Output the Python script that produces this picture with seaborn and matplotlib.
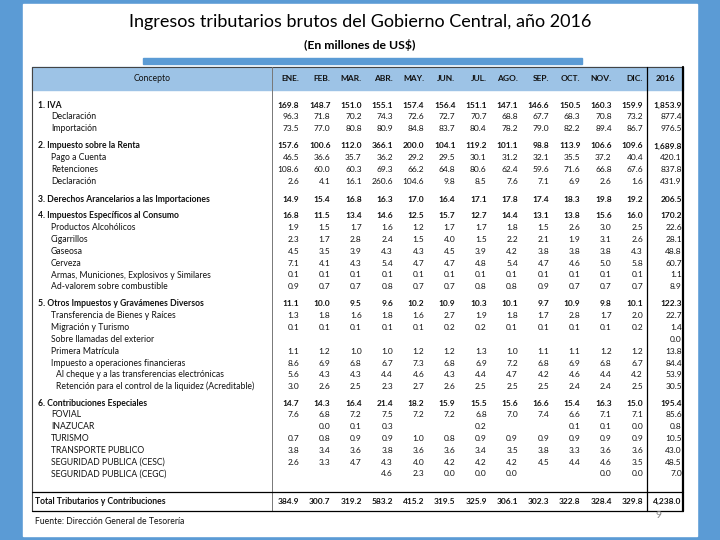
import numpy as np
import pandas as pd
import matplotlib.pyplot as plt
import seaborn as sns
from matplotlib.colors import ListedColormap
from matplotlib.patches import Rectangle

sns.set_theme(style="white")
plt.rcParams["font.family"] = ["Lato", "DejaVu Sans"]

nan = np.nan

titulo = "Ingresos tributarios brutos del Gobierno Central, año 2016"
subtitulo = "(En millones de US$)"
fuente = "Fuente: Dirección General de Tesorería"

meses = ["ENE.", "FEB.", "MAR.", "ABR.", "MAY.", "JUN.", "JUL.", "AGO.", "SEP.", "OCT.", "NOV.", "DIC."]
col_total = "2016"

# 1. IVA
iva_conceptos = ["1. IVA", "Declaración", "Importación"]
iva_nivel = [0, 1, 1]
iva = [
    [169.8, 148.7, 151.0, 155.1, 157.4, 156.4, 151.1, 147.1, 146.6, 150.5, 160.3, 159.9, 1853.9],
    [96.3, 71.8, 70.2, 74.3, 72.6, 72.7, 70.7, 68.8, 67.7, 68.3, 70.8, 73.2, 877.4],
    [73.5, 77.0, 80.8, 80.9, 84.8, 83.7, 80.4, 78.2, 79.0, 82.2, 89.4, 86.7, 976.5],
]

# 2. Renta
renta_conceptos = ["2. Impuesto sobre la Renta", "Pago a Cuenta", "Retenciones", "Declaración"]
renta_nivel = [0, 1, 1, 1]
renta = [
    [157.6, 100.6, 112.0, 366.1, 200.0, 104.1, 119.2, 101.1, 98.8, 113.9, 106.6, 109.6, 1689.8],
    [46.5, 36.6, 35.7, 36.2, 29.2, 29.5, 30.1, 31.2, 32.1, 35.5, 37.2, 40.4, 420.1],
    [108.6, 60.0, 60.3, 69.3, 66.2, 64.8, 80.6, 62.4, 59.6, 71.6, 66.8, 67.6, 837.8],
    [2.6, 4.1, 16.1, 260.6, 104.6, 9.8, 8.5, 7.6, 7.1, 6.9, 2.6, 1.6, 431.9],
]

# 3. Derechos arancelarios
dai_conceptos = ["3. Derechos Arancelarios a las Importaciones"]
dai_nivel = [0]
dai = [
    [14.9, 15.4, 16.8, 16.3, 17.0, 16.4, 17.1, 17.8, 17.4, 18.3, 19.8, 19.2, 206.5],
]

# 4. Específicos
espec_conceptos = ["4. Impuestos Específicos al Consumo", "Productos Alcohólicos", "Cigarrillos",
                   "Gaseosa", "Cerveza", "Armas, Municiones, Explosivos y Similares",
                   "Ad-valorem sobre combustible"]
espec_nivel = [0, 1, 1, 1, 1, 1, 1]
espec = [
    [16.8, 11.5, 13.4, 14.6, 12.5, 15.7, 12.7, 14.4, 13.1, 13.8, 15.6, 16.0, 170.2],
    [1.9, 1.5, 1.7, 1.6, 1.2, 1.7, 1.7, 1.8, 1.5, 2.6, 3.0, 2.5, 22.6],
    [2.3, 1.7, 2.8, 2.4, 1.5, 4.0, 1.5, 2.2, 2.1, 1.9, 3.1, 2.6, 28.1],
    [4.5, 3.5, 3.9, 4.3, 4.3, 4.5, 3.9, 4.2, 3.8, 3.8, 3.8, 4.3, 48.8],
    [7.1, 4.1, 4.3, 5.4, 4.7, 4.7, 4.8, 5.4, 4.7, 4.6, 5.0, 5.8, 60.7],
    [0.1, 0.1, 0.1, 0.1, 0.1, 0.1, 0.1, 0.1, 0.1, 0.1, 0.1, 0.1, 1.1],
    [0.9, 0.7, 0.7, 0.8, 0.7, 0.7, 0.8, 0.8, 0.9, 0.7, 0.7, 0.7, 8.9],
]

# 5. Otros
otros_conceptos = ["5. Otros Impuestos y Gravámenes Diversos", "Transferencia de Bienes y Raíces",
                   "Migración y Turismo", "Sobre llamadas del exterior", "Primera Matrícula",
                   "Impuesto a operaciones financieras",
                   "Al cheque y a las transferencias electrónicas",
                   "Retención para el control de la liquidez (Acreditable)"]
otros_nivel = [0, 1, 1, 1, 1, 1, 2, 2]
otros = [
    [11.1, 10.0, 9.5, 9.6, 10.2, 10.9, 10.3, 10.1, 9.7, 10.9, 9.8, 10.1, 122.3],
    [1.3, 1.8, 1.6, 1.8, 1.6, 2.7, 1.9, 1.8, 1.7, 2.8, 1.7, 2.0, 22.7],
    [0.1, 0.1, 0.1, 0.1, 0.1, 0.2, 0.2, 0.1, 0.1, 0.1, 0.1, 0.2, 1.4],
    [nan, nan, nan, nan, nan, nan, nan, nan, nan, nan, nan, nan, 0.0],
    [1.1, 1.2, 1.0, 1.0, 1.2, 1.2, 1.3, 1.0, 1.1, 1.1, 1.2, 1.2, 13.8],
    [8.6, 6.9, 6.8, 6.7, 7.3, 6.8, 6.9, 7.2, 6.8, 6.9, 6.8, 6.7, 84.4],
    [5.6, 4.3, 4.3, 4.4, 4.6, 4.3, 4.4, 4.7, 4.2, 4.6, 4.4, 4.2, 53.9],
    [3.0, 2.6, 2.5, 2.3, 2.7, 2.6, 2.5, 2.5, 2.5, 2.4, 2.4, 2.5, 30.5],
]

# 6. Contribuciones
contrib_conceptos = ["6. Contribuciones Especiales", "FOVIAL", "INAZUCAR", "TURISMO",
                     "TRANSPORTE PUBLICO", "SEGURIDAD PUBLICA (CESC)", "SEGURIDAD PUBLICA (CEGC)"]
contrib_nivel = [0, 1, 1, 1, 1, 1, 1]
contrib = [
    [14.7, 14.3, 16.4, 21.4, 18.2, 15.9, 15.5, 15.6, 16.6, 15.4, 16.3, 15.0, 195.4],
    [7.6, 6.8, 7.2, 7.5, 7.2, 7.2, 6.8, 7.0, 7.4, 6.6, 7.1, 7.1, 85.6],
    [nan, 0.0, 0.1, 0.3, nan, nan, 0.2, nan, nan, 0.1, 0.1, 0.0, 0.8],
    [0.7, 0.8, 0.9, 0.9, 1.0, 0.8, 0.9, 0.9, 0.9, 0.9, 0.9, 0.9, 10.5],
    [3.8, 3.4, 3.6, 3.8, 3.6, 3.6, 3.4, 3.5, 3.8, 3.3, 3.6, 3.6, 43.0],
    [2.6, 3.3, 4.7, 4.3, 4.0, 4.2, 4.2, 4.2, 4.5, 4.4, 4.6, 3.5, 48.5],
    [nan, nan, nan, 4.6, 2.3, 0.0, 0.0, 0.0, nan, nan, 0.0, 0.0, 7.0],
]

total_conceptos = ["Total Tributarios y Contribuciones"]
total_nivel = [3]
total = [
    [384.9, 300.7, 319.2, 583.2, 415.2, 319.5, 325.9, 306.1, 302.3, 322.8, 328.4, 329.8, 4238.0],
]

bloques = [
    (iva_conceptos, iva_nivel, iva),
    (renta_conceptos, renta_nivel, renta),
    (dai_conceptos, dai_nivel, dai),
    (espec_conceptos, espec_nivel, espec),
    (otros_conceptos, otros_nivel, otros),
    (contrib_conceptos, contrib_nivel, contrib),
    (total_conceptos, total_nivel, total),
]

# layout (pixels)
W, H = 720, 540
inicio = [105, 146, 199, 216, 304, 403, 501]
row_h = 11.8
x_tab0, x_sep, x_tot, x_tab1 = 32, 272, 647, 683
y_head0, y_head1, y_totline, y_tab1 = 67, 90, 492, 511
colw = (x_tab1 - x_sep) / 13          # heatmap cell width in px
mesw = (x_tot - x_sep) / 12           # visual month column width
x_concepto = {0: 38, 1: 51, 2: 56, 3: 35}
fs_txt = 6.2
fs_num = 6.0
azul = "#5B9BD5"
azul_claro = "#9DC3E6"
negro = "#111111"


def borde_der(c):
    # right edge (px) where the numbers of column c end
    if c == 12:
        return x_tab1 - 1.2
    return x_sep + (c + 1) * mesw - 4


fig = plt.figure(figsize=(7.2, 5.4), dpi=100)
fig.patch.set_facecolor(azul)

bg = fig.add_axes([0, 0, 1, 1], zorder=0)
bg.set_xlim(0, W)
bg.set_ylim(H, 0)
bg.axis("off")
bg.add_patch(Rectangle((23, 4), 674, 532, color="white"))
bg.add_patch(Rectangle((143, 58), 439, 6, color=azul))
bg.add_patch(Rectangle((x_tab0, y_head0), x_tab1 - x_tab0, y_head1 - y_head0, color=azul_claro))

ov = fig.add_axes([0, 0, 1, 1], zorder=5)
ov.set_xlim(0, W)
ov.set_ylim(H, 0)
ov.axis("off")
ov.patch.set_alpha(0)

blanco = ListedColormap(["white"])


def fmt(v):
    return "" if pd.isna(v) else f"{v:,.1f}"


for (conceptos, niveles, datos), y0 in zip(bloques, inicio):
    n = len(datos)
    top = y0 - row_h / 2
    ax = fig.add_axes([x_sep / W, 1 - (top + n * row_h) / H, (x_tab1 - x_sep) / W, n * row_h / H], zorder=1)
    df = pd.DataFrame(datos, index=conceptos, columns=meses + [col_total])
    etiquetas = df.map(fmt).values
    sns.heatmap(df, annot=etiquetas, fmt="", cmap=blanco, cbar=False, ax=ax,
                xticklabels=False, yticklabels=False, annot_kws={"fontsize": fs_num})
    ax.set_xlabel("")
    ax.set_ylabel("")
    for t in ax.texts:
        x, y = t.get_position()
        c = int(x)
        t.set_position(((borde_der(c) - x_sep) / colw, y))
        t.set_ha("right")
        t.set_color(negro)
        if niveles[int(y)] in (0, 3):
            t.set_fontweight("bold")
    for i, (c, nv) in enumerate(zip(conceptos, niveles)):
        ov.text(x_concepto[nv], y0 + i * row_h, c, fontsize=fs_txt, va="center", ha="left",
                color=negro, fontweight="bold" if nv in (0, 3) else "normal")

# header
yh = (y_head0 + y_head1) / 2
ov.text((x_tab0 + x_sep) / 2, yh, "Concepto", fontsize=fs_txt, ha="center", va="center", color=negro)
for i, m in enumerate(meses):
    ov.text(borde_der(i), yh, m, fontsize=fs_num, ha="right", va="center",
            color=negro, fontweight="bold")
ov.text((x_tot + x_tab1) / 2, yh, col_total, fontsize=fs_num, ha="center", va="center",
        color=negro, fontweight="bold")

# borders
ov.plot([x_tab0, x_tab1], [y_head0, y_head0], color="#444444", lw=0.8)
ov.plot([x_tab0, x_tab0], [y_head0, y_tab1], color="#444444", lw=0.8)
ov.plot([x_sep, x_sep], [y_head0, y_tab1], color="#777777", lw=0.7)
ov.plot([x_tot, x_tot], [y_head0, y_tab1], color="black", lw=0.9)
ov.plot([x_tab1, x_tab1], [y_head0, y_tab1], color="black", lw=1.6)
ov.plot([x_tab0, x_tab1], [y_totline, y_totline], color="black", lw=0.9)
ov.plot([x_tab0, x_tab1], [y_tab1, y_tab1], color="black", lw=0.9)

# titles and notes
ov.text(360, 22, titulo, fontsize=13, ha="center", va="center", color="black")
ov.text(360, 45, subtitulo, fontsize=8.8, ha="center", va="center", color="black", fontweight="bold")
ov.text(35, 522, fuente, fontsize=fs_txt, ha="left", va="center", color=negro)
ov.text(659, 515, "9", fontsize=7.5, ha="center", va="center", color="#8a8a8a")

plt.savefig("out.png", dpi=100, facecolor=fig.get_facecolor())
